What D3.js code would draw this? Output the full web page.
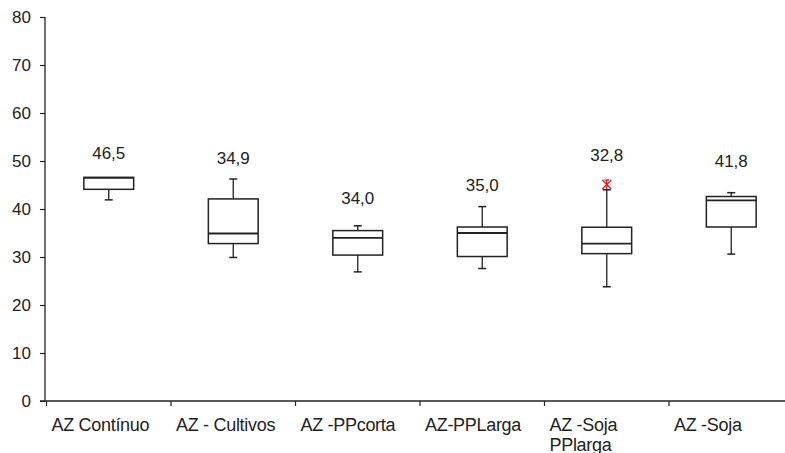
<!DOCTYPE html>
<html>
<head>
<meta charset="utf-8">
<script src="https://cdn.jsdelivr.net/npm/d3@7/dist/d3.min.js"></script>
<style>
  html, body { margin: 0; padding: 0; background: #fff; }
  svg { display: block; }
  text { font-family: "Liberation Sans", Arial, sans-serif; fill: #222; }
</style>
</head>
<body>
<svg id="chart" width="785" height="453"></svg>
<script>
// ---- data ----
const categories = ["AZ Contínuo", "AZ - Cultivos", "AZ -PPcorta", "AZ-PPLarga", "AZ -Soja\nPPlarga", "AZ -Soja"];
const whiskerLow  = [41.9, 29.9, 26.9, 27.6, 23.8, 30.6];
const q1          = [44.1, 32.8, 30.4, 30.1, 30.7, 36.25];
const median      = [46.5, 34.9, 34.0, 35.0, 32.8, 41.8];
const q3          = [46.6, 42.1, 35.5, 36.25, 36.2, 42.6];
const whiskerHigh = [46.6, 46.25, 36.5, 40.5, 44.0, 43.4];
const outliers    = [[], [], [], [], [45.1], []];
const medianLabels = ["46,5", "34,9", "34,0", "35,0", "32,8", "41,8"];
const labelAt     = [51.6, 50.6, 42.2, 45.0, 51.25, 49.9];
const yTicks      = [0, 10, 20, 30, 40, 50, 60, 70, 80];

// ---- layout ----
const svg = d3.select("#chart");
const x = d3.scaleBand().domain(categories).range([46.5, 793.5]).paddingInner(0).paddingOuter(0);
const y = d3.scaleLinear().domain([0, 80]).range([401, 17]);
const boxW = x.bandwidth() * 0.4;
const capW = 8;

// y axis
const yAxis = d3.axisLeft(y).tickValues(yTicks).tickSize(5).tickPadding(9).tickFormat(d3.format("d"));
const gy = svg.append("g").attr("transform", "translate(45,0)").call(yAxis);
gy.select(".domain").attr("stroke", "#222").attr("stroke-width", 1.3).attr("d", `M-0,${y(80)}V${y(0)}`);
gy.selectAll(".tick line").attr("stroke", "#222").attr("stroke-width", 1.2);
gy.selectAll(".tick text").attr("font-size", 17).style("font-family", '"Liberation Sans", Arial, sans-serif').attr("fill", "#222");

// x axis
const gx = svg.append("g");
gx.append("line").attr("x1", 40).attr("x2", 785).attr("y1", y(0)).attr("y2", y(0))
  .attr("stroke", "#222").attr("stroke-width", 1.3);
gx.selectAll("line.xt").data(categories).join("line").attr("class", "xt")
  .attr("x1", d => x(d)).attr("x2", d => x(d)).attr("y1", y(0)).attr("y2", y(0) + 5)
  .attr("stroke", "#222").attr("stroke-width", 1.2);
const labels = gx.selectAll("text.xl").data(categories).join("text").attr("class", "xl")
  .attr("font-size", 18).attr("letter-spacing", -0.3).attr("text-anchor", "start");
labels.each(function(d) {
  const t = d3.select(this);
  d.split("\n").forEach((line, i) => {
    t.append("tspan").attr("x", x(d) + 5).attr("y", y(0) + 30 + i * 20).text(line);
  });
});

// boxes
const g = svg.append("g").attr("stroke", "#222").attr("fill", "none");
categories.forEach((c, i) => {
  const cx = x(c) + x.bandwidth() / 2;
  // whiskers
  g.append("line").attr("x1", cx).attr("x2", cx).attr("y1", y(q1[i])).attr("y2", y(whiskerLow[i])).attr("stroke-width", 1.3);
  g.append("line").attr("x1", cx - capW / 2).attr("x2", cx + capW / 2).attr("y1", y(whiskerLow[i])).attr("y2", y(whiskerLow[i])).attr("stroke-width", 1.5);
  if (whiskerHigh[i] > q3[i]) {
    g.append("line").attr("x1", cx).attr("x2", cx).attr("y1", y(q3[i])).attr("y2", y(whiskerHigh[i])).attr("stroke-width", 1.3);
    g.append("line").attr("x1", cx - capW / 2).attr("x2", cx + capW / 2).attr("y1", y(whiskerHigh[i])).attr("y2", y(whiskerHigh[i])).attr("stroke-width", 1.5);
  }
  // box
  g.append("rect").attr("x", cx - boxW / 2).attr("y", y(q3[i])).attr("width", boxW)
    .attr("height", y(q1[i]) - y(q3[i])).attr("fill", "#fff").attr("stroke-width", 1.5);
  // median
  g.append("line").attr("x1", cx - boxW / 2).attr("x2", cx + boxW / 2).attr("y1", y(median[i])).attr("y2", y(median[i])).attr("stroke-width", 1.8);
  // outliers (red asterisk)
  outliers[i].forEach(v => {
    const oy = y(v), s = 4.5;
    const o = svg.append("g").attr("stroke", "#e8141b").attr("stroke-width", 1.3);
    o.append("line").attr("x1", cx - s).attr("x2", cx + s).attr("y1", oy - s).attr("y2", oy + s);
    o.append("line").attr("x1", cx - s).attr("x2", cx + s).attr("y1", oy + s).attr("y2", oy - s);
    o.append("line").attr("x1", cx).attr("x2", cx).attr("y1", oy - s).attr("y2", oy + s);
    o.append("line").attr("x1", cx - s / 2).attr("x2", cx + s / 2).attr("y1", oy - s).attr("y2", oy - s);
  });
  // median value label
  svg.append("text").attr("x", cx).attr("y", y(labelAt[i])).attr("dy", "0.35em")
    .attr("text-anchor", "middle").attr("font-size", 17).text(medianLabels[i]);
});
</script>
</body>
</html>
